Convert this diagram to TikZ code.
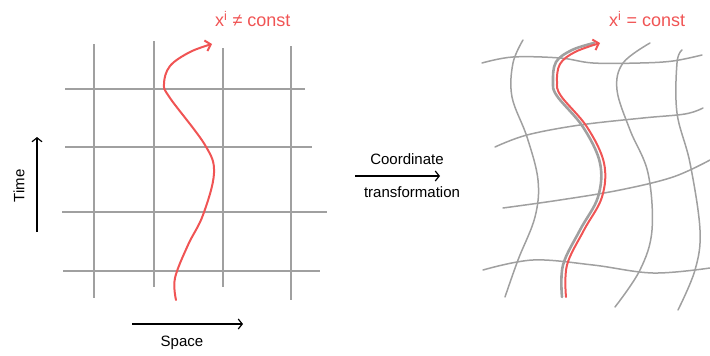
\documentclass[tikz,border=0pt]{standalone}
\usepackage{fontspec}
\setmainfont{Liberation Sans}
\usetikzlibrary{arrows.meta}
\definecolor{redline}{RGB}{240,84,84}
\definecolor{gridgray}{RGB}{160,160,160}
\tikzset{
  gridline/.style={draw=gridgray, line width=1.6pt},
  wobble/.style={draw=gridgray, line width=1.5pt, line cap=round},
  worldline/.style={draw=redline, line width=2pt, line cap=round, -{Straight Barb[length=5pt,width=11pt,line width=2pt]}},
  axisarrow/.style={draw=black, line width=1.2pt, -{Straight Barb[length=4pt,width=10pt,line width=1.2pt]}},
  lbl/.style={font=\fontsize{15}{17}\selectfont, inner sep=1pt},
  redlbl/.style={font=\fontsize{18}{20}\selectfont, text=redline, inner sep=1pt}
}
\begin{document}
\begin{tikzpicture}[x=1pt,y=-1pt]
\useasboundingbox (0,0) rectangle (710,356);
% ---------- left: regular grid ----------
\draw[gridline] (94,44) -- (94,298);
\draw[gridline] (154,41) -- (154,287);
\draw[gridline] (223,48) -- (223,287);
\draw[gridline] (291,46) -- (291,300);
\draw[gridline] (65,89) -- (305,89);
\draw[gridline] (65,147) -- (312,147);
\draw[gridline] (62,212) -- (327,212);
\draw[gridline] (63,271) -- (320,271);
% world line
\draw[worldline] plot[smooth, tension=0.6] coordinates {(176,300) (175,278) (188,245) (203,215) (214,173) (205,145) (170,98) (164,84) (170,66) (190,52) (212,44)};
\node[redlbl, anchor=west] (neq) at (214,19) {x\textsuperscript{i} ≠ const};
% axes
\draw[axisarrow] (37,232) -- (37,137);
\node[lbl, rotate=90] (time) at (19,186) {Time};
\draw[axisarrow] (132,324) -- (243,324);
\node[lbl] (space) at (182,343) {Space};
% ---------- middle: transformation arrow ----------
\coordinate (ta) at (355,176);
\coordinate (tb) at (440,176);
\draw[axisarrow] (ta) -- (tb);
\node[lbl] (coord) at (407,159) {Coordinate};
\node[lbl] (trans) at (412,192) {transformation};
% ---------- right: distorted grid ----------
\draw[wobble] plot[smooth, tension=0.6] coordinates {(482,63) (513,57) (560,58) (593,63) (640,63) (673,61) (702,55)};
\draw[wobble] plot[smooth, tension=0.6] coordinates {(495,147) (527,135) (580,125) (643,118) (685,114) (703,108)};
\draw[wobble] plot[smooth, tension=0.6] coordinates {(503,208) (560,200) (620,190) (673,177) (710,160)};
\draw[wobble] plot[smooth, tension=0.6] coordinates {(483,270) (533,260) (593,265) (653,273) (710,268)};
\draw[wobble] plot[smooth, tension=0.6] coordinates {(523,40) (513,63) (512,97) (527,137) (538,180) (535,217) (518,260) (505,297)};
\draw[wobble] plot[smooth, tension=0.6] coordinates {(650,43) (623,63) (617,90) (630,130) (648,173) (652,230) (640,270) (615,307)};
\draw[wobble] plot[smooth, tension=0.6] coordinates {(682,50) (677,63) (677,113) (690,163) (700,230) (695,270) (678,310)};
% gray grid line under the red world line
\draw[draw=gridgray, line width=2.6pt, line cap=round] plot[smooth, tension=0.6] coordinates {(562,297) (563,265) (580,230) (598,197) (600,163) (583,127) (557,96) (553,82) (556,62) (572,50) (594,43)};
\draw[worldline] plot[smooth, tension=0.6] coordinates {(566,297) (567,265) (584,230) (602,197) (604,163) (587,127) (561,96) (557,82) (560,64) (575,52) (600,43)};
\node[redlbl, anchor=west] (eq) at (608,19) {x\textsuperscript{i} = const};
\end{tikzpicture}
\end{document}
